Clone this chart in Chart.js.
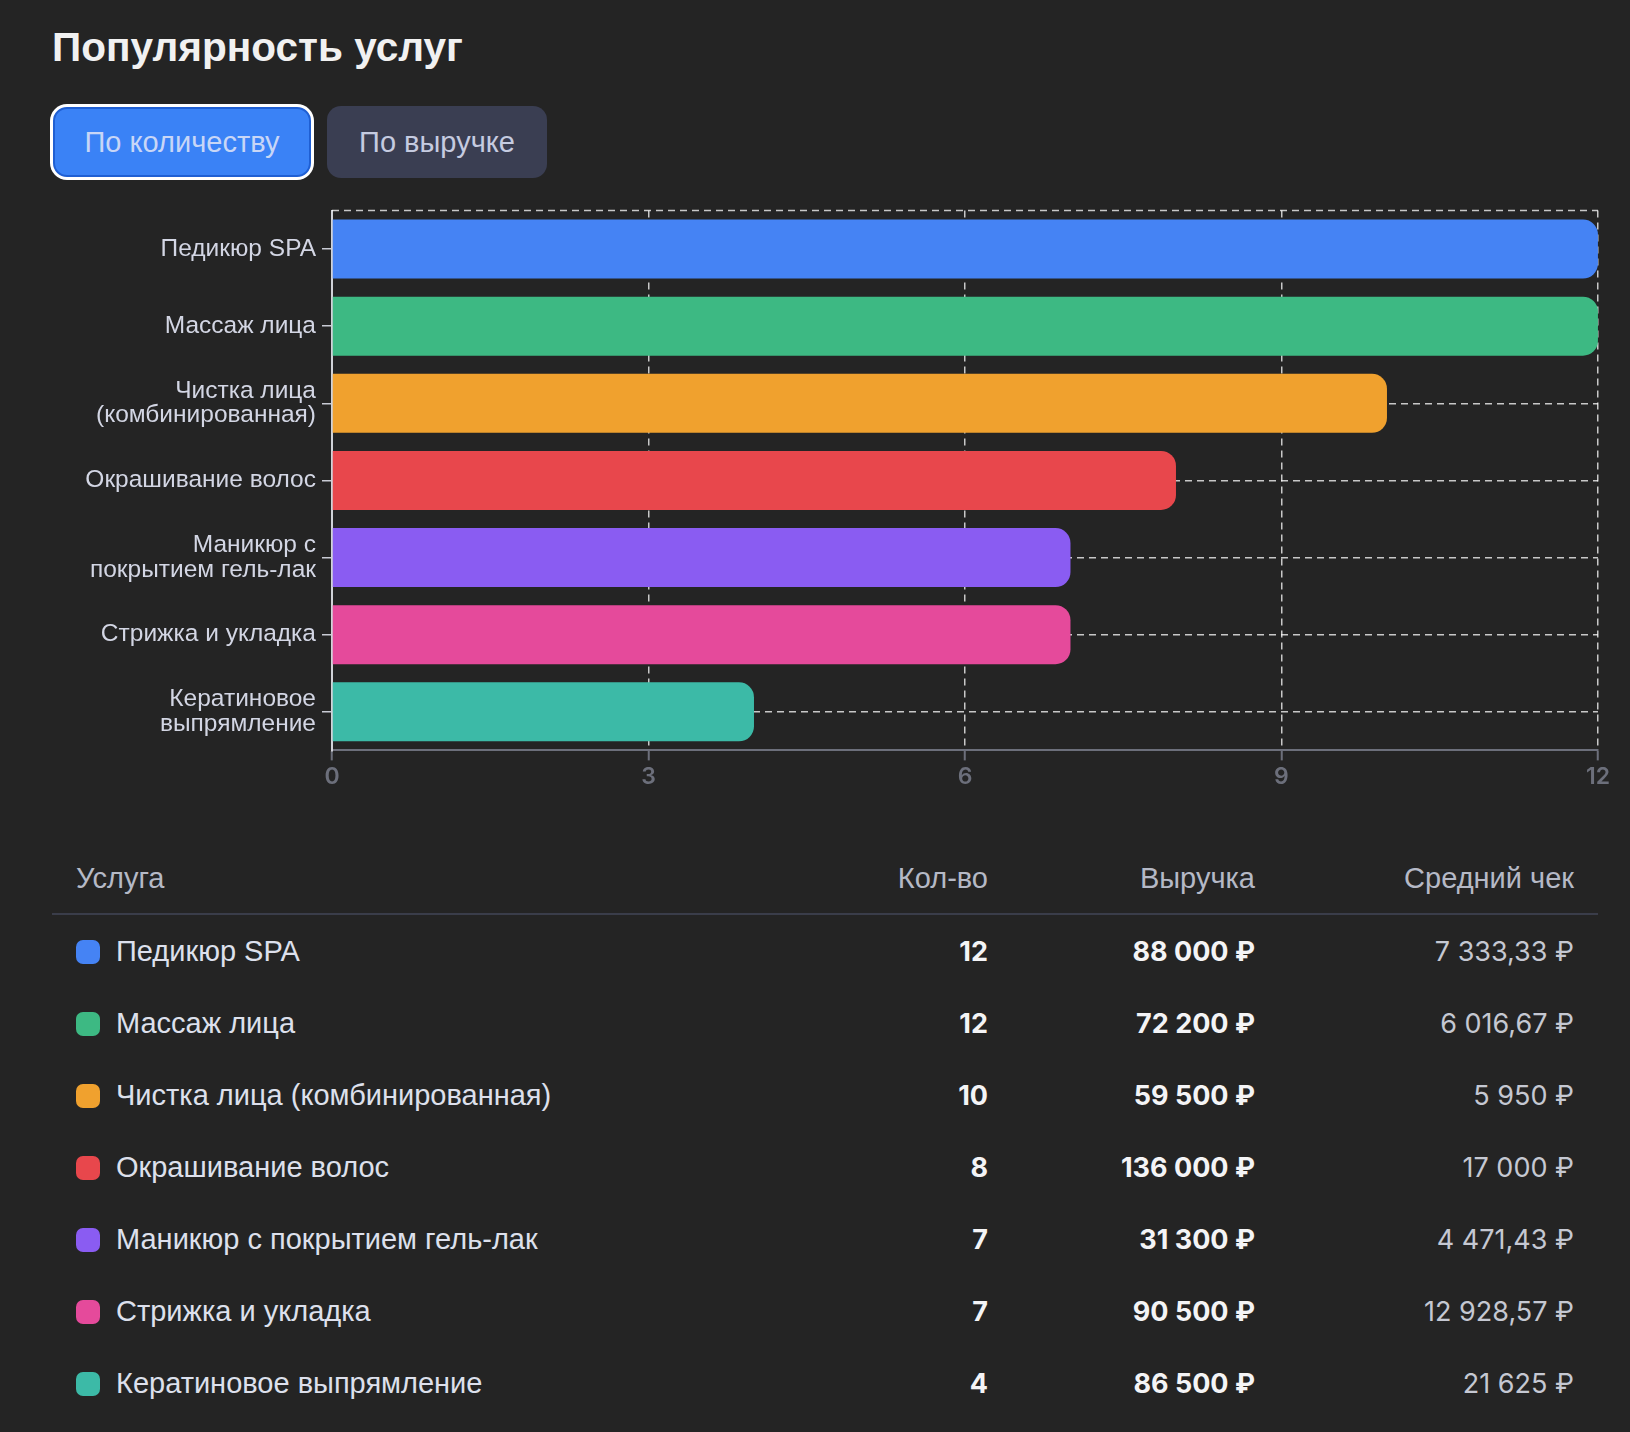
<!DOCTYPE html>
<html lang="ru">
<head>
<meta charset="utf-8">
<title>Популярность услуг</title>
<script src="https://cdn.jsdelivr.net/npm/chart.js@4.4.1/dist/chart.umd.min.js"></script>
<style>
  html, body {
    margin: 0;
    padding: 0;
    background: #242424;
    width: 1630px;
    height: 1432px;
    overflow: hidden;
    font-family: "Liberation Sans", Arial, sans-serif;
  }
  h1 {
    position: absolute;
    left: 52px;
    top: 23px;
    margin: 0;
    font-size: 40.6px;
    font-weight: 700;
    color: #f1f1f1;
    line-height: 48px;
  }
  .btn {
    position: absolute;
    box-sizing: border-box;
    font-family: "Liberation Sans", Arial, sans-serif;
    font-size: 29px;
    border-radius: 14px;
    display: flex;
    align-items: center;
    justify-content: center;
  }
  #byCount {
    left: 53px;
    top: 107px;
    width: 258px;
    height: 70px;
    background: #3a82f6;
    border: 2px solid #1f5fd3;
    box-shadow: 0 0 0 3px #ffffff;
    color: #c8d6f6;
  }
  #byRevenue {
    left: 327px;
    top: 106px;
    width: 220px;
    height: 72px;
    background: #3a3e52;
    color: #c5cbe0;
  }
  #chartBox {
    position: absolute;
    left: 0;
    top: 180px;
    width: 1613px;
    height: 614px;
  }
  table {
    position: absolute;
    left: 52px;
    top: 843px;
    width: 1546px;
    border-collapse: collapse;
    table-layout: fixed;
  }
  th {
    height: 70px;
    font-size: 29px;
    font-weight: 400;
    color: #b5b9c6;
    border-bottom: 2px solid #3a3d4a;
    padding: 0;
  }
  td {
    height: 72px;
    padding: 0;
    font-size: 27px;
  }
  .name { text-align: left; padding-left: 24px; }
  .num { text-align: right; }
  .last { padding-right: 24px; }
  td.name { font-size: 29px; color: #dde0ec; }
  td.qty, td.rev { font-family: Inter, sans-serif; font-weight: 700; color: #f4f4f6; }
  td.avg { font-family: Inter, sans-serif; font-weight: 400; color: #c5c8d2; }
  .dot {
    display: inline-block;
    width: 24px;
    height: 24px;
    border-radius: 7px;
    margin-right: 16px;
    vertical-align: -3px;
  }
</style>
</head>
<body>

<h1>Популярность услуг</h1>
<div class="btn" id="byCount">По количеству</div>
<div class="btn" id="byRevenue">По выручке</div>

<div id="chartBox"><canvas id="chart"></canvas></div>

<table id="services">
  <colgroup>
    <col style="width:768px">
    <col style="width:168px">
    <col style="width:267px">
    <col style="width:343px">
  </colgroup>
  <thead>
    <tr>
      <th class="name">Услуга</th>
      <th class="num">Кол-во</th>
      <th class="num">Выручка</th>
      <th class="num last">Средний чек</th>
    </tr>
  </thead>
  <tbody></tbody>
</table>

<script>
const services = [
  'Педикюр SPA',
  'Массаж лица',
  'Чистка лица (комбинированная)',
  'Окрашивание волос',
  'Маникюр с покрытием гель-лак',
  'Стрижка и укладка',
  'Кератиновое выпрямление'
];

// same names, wrapped the way the chart axis shows them
const axisLabels = [
  'Педикюр SPA',
  'Массаж лица',
  ['Чистка лица', '(комбинированная)'],
  'Окрашивание волос',
  ['Маникюр с', 'покрытием гель-лак'],
  'Стрижка и укладка',
  ['Кератиновое', 'выпрямление']
];

const counts = [12, 12, 10, 8, 7, 7, 4];
const revenue = [88000, 72200, 59500, 136000, 31300, 90500, 86500];
const avgCheck = [7333.33, 6016.67, 5950, 17000, 4471.43, 12928.57, 21625];

const colors = ['#4583f4', '#3db983', '#f0a12e', '#e8474c', '#8a5cf2', '#e54a9b', '#3cbaa7'];

const xMin = 0;
const xMax = 12;
const xStep = 3;

function groupDigits(n) {
  return String(n).replace(/\B(?=(\d{3})+(?!\d))/g, '\u00a0');
}

function rub(v) {
  let whole = Math.floor(v);
  let cents = Math.round((v - whole) * 100);
  let s = groupDigits(whole);
  if (cents > 0) s += ',' + String(cents).padStart(2, '0');
  return s + '\u00a0₽';
}

// table
const tbody = document.querySelector('#services tbody');
for (let i = 0; i < services.length; i++) {
  const tr = document.createElement('tr');
  tr.innerHTML =
    '<td class="name"><span class="dot" style="background:' + colors[i] + '"></span>' + services[i] + '</td>' +
    '<td class="num qty">' + counts[i] + '</td>' +
    '<td class="num rev">' + rub(revenue[i]) + '</td>' +
    '<td class="num avg last">' + rub(avgCheck[i]) + '</td>';
  tbody.appendChild(tr);
}

// dashed line along the top of the plot area
const topLine = {
  id: 'topLine',
  beforeDatasetsDraw(chart) {
    const {ctx, chartArea} = chart;
    ctx.save();
    ctx.strokeStyle = 'rgba(255,255,255,0.75)';
    ctx.lineWidth = 1.5;
    ctx.setLineDash([7, 5]);
    ctx.beginPath();
    ctx.moveTo(chartArea.left, chartArea.top);
    ctx.lineTo(chartArea.right, chartArea.top);
    ctx.stroke();
    ctx.restore();
  }
};

Chart.defaults.font.family = '"Liberation Sans", Arial, sans-serif';

const ctx = document.getElementById('chart').getContext('2d');
const myChart = new Chart(ctx, {
  type: 'bar',
  data: {
    labels: axisLabels,
    datasets: [{
      label: 'Кол-во',
      data: counts,
      backgroundColor: colors,
      borderRadius: 15,
      borderSkipped: 'start',
      categoryPercentage: 0.85,
      barPercentage: 0.9
    }]
  },
  options: {
    indexAxis: 'y',
    responsive: true,
    maintainAspectRatio: false,
    animation: false,
    layout: { padding: 0 },
    plugins: {
      legend: { display: false },
      tooltip: { enabled: false }
    },
    scales: {
      x: {
        min: xMin,
        max: xMax,
        ticks: {
          stepSize: xStep,
          color: '#6c6f7b',
          padding: 3,
          font: { family: 'Inter, sans-serif', size: 23, weight: '600' }
        },
        grid: {
          color: 'rgba(255,255,255,0.75)',
          lineWidth: 1.5,
          tickColor: '#6c6f7b',
          tickLength: 10,
          tickWidth: 2,
          tickBorderDash: []
        },
        border: {
          color: '#6c6f7b',
          width: 2,
          dash: [7, 5]
        }
      },
      y: {
        afterFit(scale) { scale.width = 332; },
        ticks: {
          color: '#d3d6e4',
          padding: 6,
          font: { size: 24.5, lineHeight: 1.0 }
        },
        grid: {
          offset: false,
          color: 'rgba(255,255,255,0.75)',
          lineWidth: 1.5,
          tickColor: '#c8cad4',
          tickLength: 10,
          tickWidth: 1.5,
          tickBorderDash: []
        },
        border: {
          color: '#d0d2d8',
          width: 2,
          dash: [7, 5]
        }
      }
    }
  },
  plugins: [topLine]
});
</script>
</body>
</html>
